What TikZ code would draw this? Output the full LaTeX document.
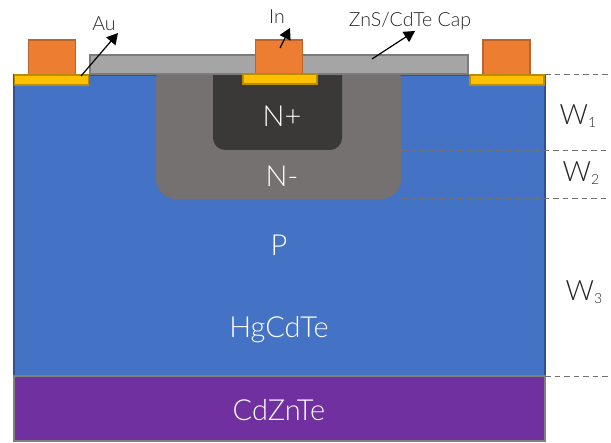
\documentclass[tikz,border=0pt]{standalone}
\usepackage{fontspec}
\setmainfont{Lato Light}
\usetikzlibrary{arrows.meta}
\definecolor{blueF}{HTML}{4472C4}
\definecolor{blueD}{HTML}{2F528F}
\definecolor{purpF}{HTML}{7030A0}
\definecolor{grayD}{HTML}{7F7F7F}
\definecolor{capF}{HTML}{A5A5A5}
\definecolor{capD}{HTML}{7C7C7C}
\definecolor{nminus}{HTML}{767171}
\definecolor{nplus}{HTML}{3B3838}
\definecolor{orangeF}{HTML}{ED7D31}
\definecolor{orangeD}{HTML}{B9652D}
\definecolor{goldF}{HTML}{FFC000}
\definecolor{goldD}{HTML}{BC8C00}
\definecolor{txt}{HTML}{262626}
\newcommand{\wsub}[1]{W\raisebox{-3pt}{\fontsize{14}{14}\selectfont #1}}
\tikzset{
  x=1pt,y=-1pt,
  layer/.style={draw,line width=1.7pt,inner sep=0pt,anchor=north west},
  metal/.style={layer,draw=orangeD,fill=orangeF,minimum width=47pt,minimum height=35pt},
  pad/.style={layer,draw=goldD,fill=goldF,minimum width=74pt,minimum height=9.5pt},
  white label/.style={text=white,font=\fontsize{29}{29}\selectfont,inner sep=0pt},
  dark label/.style={text=txt,font=\fontsize{19.5}{19.5}\selectfont,inner sep=0pt},
  width label/.style={text=txt,font=\fontsize{28}{28}\selectfont,inner sep=0pt},
  pointer/.style={-{Triangle[length=11pt,width=12pt]},line width=1.2pt,black},
  level/.style={dash pattern=on 5.5pt off 4pt,line width=.8pt,grayD!90!black}
}
\begin{document}
\begin{tikzpicture}
\useasboundingbox (0,0) rectangle (611,443);
\node[layer,draw=blueD,fill=blueF,minimum width=531pt,minimum height=301.5pt] (hg) at (13,74) {};
\fill[nminus,rounded corners=20pt] (156,60) -- (156,199) -- (401,199) -- (401,60) -- cycle;
\fill[nplus,rounded corners=12pt] (213,60) -- (213,150) -- (342,150) -- (342,60) -- cycle;
\node[layer,draw=capD,fill=capF,minimum width=378pt,minimum height=19pt] (cap) at (89,54.5) {};
\node[layer,draw=grayD,fill=purpF,minimum width=531pt,minimum height=65pt] (cz) at (13,375.5) {};
\node[metal] (m1) at (27.5,39) {};
\node[metal] (m2) at (254.5,39) {};
\node[metal] (m3) at (482,39) {};
\node[pad] (p1) at (13.5,74.5) {};
\node[pad] (p2) at (242,73.5) {};
\node[pad] (p3) at (469,74.5) {};
\node[white label] (nplusT) at (282,116) {N+};
\node[white label] (nminusT) at (282,176) {N-};
\node[white label] (pT) at (279,245) {P};
\node[white label] (hgT) at (279,330) {HgCdTe};
\node[white label] (czT) at (279,410) {CdZnTe};
\node[dark label] (au) at (104,24) {Au};
\node[dark label] (in) at (277,17) {In};
\node[dark label] (zns) at (410,21) {ZnS/CdTe Cap};
\node[width label] (w1) at (578,116) {\wsub{1}};
\node[width label] (w2) at (581,173) {\wsub{2}};
\node[width label] (w3) at (584,292) {\wsub{3}};
\coordinate (a1) at (81,76);
\coordinate (a2) at (118,33);
\coordinate (b1) at (280,48);
\coordinate (b2) at (290,28);
\coordinate (c1) at (372,59);
\coordinate (c2) at (415,31);
\draw[pointer] (a1) -- (a2);
\draw[pointer] (b1) -- (b2);
\draw[pointer] (c1) -- (c2);
\coordinate (d1) at (545,74);
\coordinate (d2) at (608,74);
\coordinate (e1) at (401,150.5);
\coordinate (e2) at (608,150.5);
\coordinate (f1) at (401,198.5);
\coordinate (f2) at (608,198.5);
\coordinate (g1) at (545,376);
\coordinate (g2) at (608,376);
\draw[level] (d1) -- (d2);
\draw[level] (e1) -- (e2);
\draw[level] (f1) -- (f2);
\draw[level] (g1) -- (g2);
\end{tikzpicture}
\end{document}
